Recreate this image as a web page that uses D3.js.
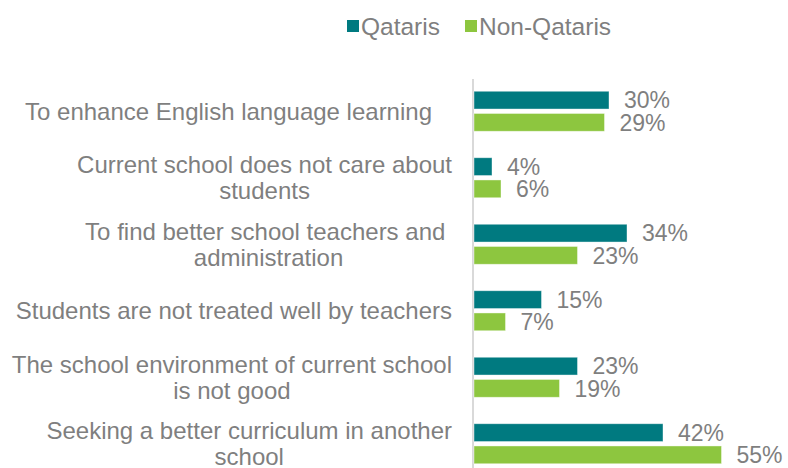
<!DOCTYPE html>
<html>
<head>
<meta charset="utf-8">
<script src="https://cdn.jsdelivr.net/npm/d3@7"></script>
<style>
  html, body { margin: 0; padding: 0; background: #fff; }
  svg { display: block; font-family: "Liberation Sans", Arial, sans-serif; }
</style>
</head>
<body>
<svg id="chart" width="788" height="468"></svg>
<script>
// Reasons for changing school, by nationality (%)
const categories = [
  ["To enhance English language learning\u00a0\u00a0\u00a0"],
  ["Current school does not care about", "students"],
  ["To find better school teachers and\u00a0", "administration"],
  ["Students are not treated well by teachers"],
  ["The school environment of current school", "is not good"],
  ["Seeking a better curriculum in another", "school"]
];
const seriesNames = ["Qataris", "Non-Qataris"];
const qataris    = [30, 4, 34, 15, 23, 42];
const nonQataris = [29, 6, 23, 7, 19, 55];
const seriesColors = ["#007A80", "#8DC63F"];

const svg = d3.select("#chart");
const textColor = "#7F7F7F";

const keys = categories.map((c, i) => "c" + i);
const values = [qataris, nonQataris];

const x = d3.scaleLinear().domain([0, 60]).range([474, 744]);
const y = d3.scaleBand().domain(keys).range([78, 477]);
const sub = d3.scaleBand().domain(seriesNames).range([-20, 20]).paddingInner(0.2);

// Vertical category axis line
svg.append("line")
  .attr("x1", x(0) - 1).attr("x2", x(0) - 1)
  .attr("y1", 79).attr("y2", 468)
  .attr("stroke", "#D9D9D9").attr("stroke-width", 2);

// Bars with value labels
const groups = svg.selectAll("g.cat")
  .data(keys)
  .join("g")
  .attr("class", "cat")
  .attr("transform", d => `translate(0,${y(d) + y.bandwidth() / 2})`);

seriesNames.forEach((s, si) => {
  groups.append("rect")
    .attr("x", x(0))
    .attr("y", sub(s))
    .attr("width", (d, i) => x(values[si][i]) - x(0))
    .attr("height", sub.bandwidth())
    .attr("fill", seriesColors[si])
    .attr("stroke", "#ffffff").attr("stroke-opacity", 0.5).attr("stroke-width", 0.8);

  groups.append("text")
    .attr("x", (d, i) => x(values[si][i]) + 15)
    .attr("y", sub(s) + sub.bandwidth() / 2)
    .attr("dy", "0.36em")
    .attr("font-size", 23)
    .attr("fill", textColor)
    .text((d, i) => values[si][i] + "%");
});

// Category labels: lines centred within a block that is right-aligned to the axis
const labelRight = 452;
const lineHeight = 26;
categories.forEach((lines, i) => {
  const cy = y(keys[i]) + y.bandwidth() / 2;
  const g = svg.append("g").attr("class", "label");
  const texts = lines.map((ln, li) => g.append("text")
    .attr("font-size", 24)
    .attr("fill", textColor)
    .attr("text-anchor", "middle")
    .attr("y", cy + (li - (lines.length - 1) / 2) * lineHeight)
    .attr("dy", "0.36em")
    .style("white-space", "pre")
    .text(ln));
  const w = d3.max(texts, t => t.node().getComputedTextLength());
  texts.forEach(t => t.attr("x", labelRight - w / 2));
});

// Legend
const legend = svg.append("g").attr("class", "legend");
const legendX = [347, 465];
seriesNames.forEach((s, i) => {
  legend.append("rect")
    .attr("x", legendX[i]).attr("y", 20)
    .attr("width", 12).attr("height", 12)
    .attr("fill", seriesColors[i]);
  legend.append("text")
    .attr("x", legendX[i] + 14).attr("y", 26)
    .attr("dy", "0.36em")
    .attr("font-size", 24.5)
    .attr("fill", textColor)
    .text(s);
});
</script>
</body>
</html>
